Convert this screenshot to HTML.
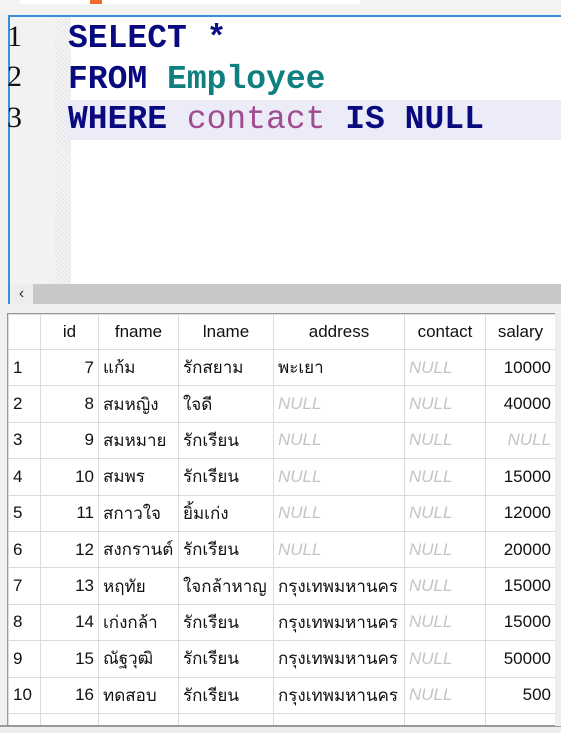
<!DOCTYPE html>
<html style="width:561px;height:733px;overflow:hidden"><head><meta charset="utf-8"><style>
body{margin:0;width:561px;height:733px;overflow:hidden;background:#f0f0f0;position:relative;font-family:"Liberation Sans",Tahoma,sans-serif}
.a{position:absolute}
#top{left:0;top:0;width:561px;height:14px;background:#f3f3f3}
#ed{left:8px;top:15px;width:553px;height:289px;border:2px solid #3c8fd6;border-right:none;background:#fff;box-sizing:border-box}
#gut{left:0;top:0;width:45px;height:268px;background:#f2f2f2}
#dot{left:45px;top:0;width:16px;height:268px;background:repeating-linear-gradient(45deg,#e4e4e4 0 1px,#f4f4f4 1px 3px)}
#hl{left:56px;top:83px;width:500px;height:40px;background:#ececf8}
.ln{left:-3px;font-family:"Liberation Serif",serif;font-size:30px;color:#111}
.code{left:58px;font-family:"Liberation Mono",monospace;font-weight:bold;font-size:33px;white-space:pre;color:#0a0a80;line-height:40px}
#sb{left:0;top:267px;width:551px;height:20px;background:#c8c8c8}
#sbl{left:0;top:267px;width:23px;height:20px;background:#ededed;font-size:16px;line-height:20px;text-align:center;color:#333}
#tw{left:8px;top:314px;width:547px;height:411px;overflow:hidden}
table{border-collapse:collapse;background:#fff;font-size:17px;table-layout:fixed;width:547px}
td{border:1px solid #dcdcdc;height:35.4px;padding:0 4px;white-space:nowrap;overflow:hidden;color:#111}
tr.h td{text-align:center;height:34px}
td.r{text-align:right}
td.n{color:#c4c4c4;font-style:italic}
</style></head><body>
<div class="a" id="top"></div>
<div class="a" style="left:20px;top:0;width:340px;height:4px;background:#fff"></div>
<div class="a" style="left:90px;top:0;width:12px;height:4px;background:#f26b2b"></div>
<div class="a" id="ed">
 <div class="a" id="gut"></div><div class="a" id="dot"></div>
 <div class="a" id="hl"></div>
 <div class="a ln" style="top:3px">1</div>
 <div class="a ln" style="top:43px">2</div>
 <div class="a ln" style="top:84px">3</div>
 <div class="a code" style="top:2px">SELECT *</div>
 <div class="a code" style="top:43px">FROM <span style="color:#0e8080">Employee</span></div>
 <div class="a code" style="top:83px">WHERE <span style="color:#a04c90;font-weight:normal">contact</span> IS NULL</div>
 <div class="a" id="sb"></div><div class="a" id="sbl">&lsaquo;</div>
</div>
<div class="a" style="left:7px;top:313px;width:554px;height:413px;background:#fff;border-left:2px solid #999;border-top:2px solid #999"></div>
<div class="a" id="tw">
<table>
<colgroup><col style="width:32px"><col style="width:58px"><col style="width:80px"><col style="width:95px"><col style="width:131px"><col style="width:81px"><col style="width:70px"></colgroup>
<tr class="h"><td></td><td>id</td><td>fname</td><td>lname</td><td>address</td><td>contact</td><td>salary</td></tr>
<tr><td>1</td><td class="r">7</td><td>แก้ม</td><td>รักสยาม</td><td>พะเยา</td><td class="n">NULL</td><td class="r">10000</td></tr>
<tr><td>2</td><td class="r">8</td><td>สมหญิง</td><td>ใจดี</td><td class="n">NULL</td><td class="n">NULL</td><td class="r">40000</td></tr>
<tr><td>3</td><td class="r">9</td><td>สมหมาย</td><td>รักเรียน</td><td class="n">NULL</td><td class="n">NULL</td><td class="r n">NULL</td></tr>
<tr><td>4</td><td class="r">10</td><td>สมพร</td><td>รักเรียน</td><td class="n">NULL</td><td class="n">NULL</td><td class="r">15000</td></tr>
<tr><td>5</td><td class="r">11</td><td>สกาวใจ</td><td>ยิ้มเก่ง</td><td class="n">NULL</td><td class="n">NULL</td><td class="r">12000</td></tr>
<tr><td>6</td><td class="r">12</td><td>สงกรานต์</td><td>รักเรียน</td><td class="n">NULL</td><td class="n">NULL</td><td class="r">20000</td></tr>
<tr><td>7</td><td class="r">13</td><td>หฤทัย</td><td>ใจกล้าหาญ</td><td>กรุงเทพมหานคร</td><td class="n">NULL</td><td class="r">15000</td></tr>
<tr><td>8</td><td class="r">14</td><td>เก่งกล้า</td><td>รักเรียน</td><td>กรุงเทพมหานคร</td><td class="n">NULL</td><td class="r">15000</td></tr>
<tr><td>9</td><td class="r">15</td><td>ณัฐวุฒิ</td><td>รักเรียน</td><td>กรุงเทพมหานคร</td><td class="n">NULL</td><td class="r">50000</td></tr>
<tr><td>10</td><td class="r">16</td><td>ทดสอบ</td><td>รักเรียน</td><td>กรุงเทพมหานคร</td><td class="n">NULL</td><td class="r">500</td></tr>
<tr><td></td><td></td><td></td><td></td><td></td><td></td><td></td></tr>
</table>
</div>
<div class="a" style="left:0;top:725px;width:561px;height:8px;background:#eeeeee;border-top:2px solid #999"></div>
<div class="a" style="left:555px;top:313px;width:6px;height:413px;background:#eee"></div>
</body></html>
